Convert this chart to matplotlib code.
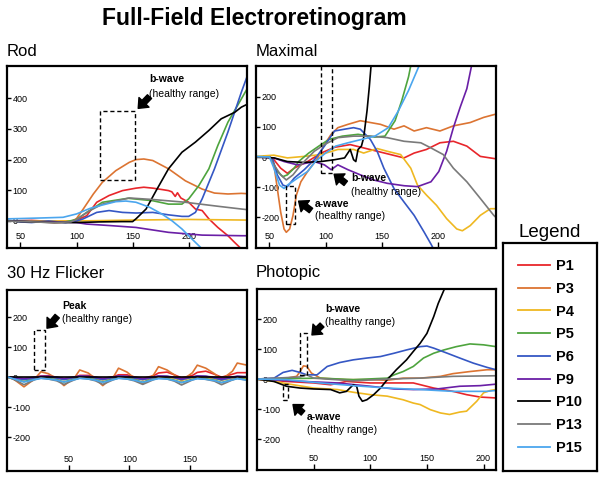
import matplotlib
matplotlib.use("Agg")
import matplotlib.pyplot as plt
from matplotlib.patches import Rectangle
from matplotlib.lines import Line2D

plt.rcParams['font.family'] = ['Liberation Sans', 'DejaVu Sans']
plt.rcParams['axes.unicode_minus'] = False

patients = ['P1', 'P3', 'P4', 'P5', 'P6', 'P9', 'P10', 'P13', 'P15']
colors = ['#e8262b', '#dc7432', '#efb821', '#4ea43e', '#3557c4',
          '#6a1fa6', '#000000', '#7a7a7a', '#4ba6ee']

# ---- Rod (x in ms, y in uV) ----
rod = {
    'P1': ([38, 60, 80, 95, 100, 109, 118, 129, 141, 153, 160, 168, 177, 182, 185, 188, 190, 193, 200, 206, 212, 218, 226, 235, 241, 247, 252],
           [0, 2, -2, 0, 3, 17, 61, 83, 99, 107, 110, 107, 102, 99, 95, 80, 92, 75, 61, 39, 34, 7, -21, -48, -70, -91, -110]),
    'P3': ([38, 60, 80, 95, 100, 106, 115, 123, 135, 147, 153, 160, 168, 182, 197, 212, 223, 235, 247, 252],
           [0, -2, -5, -3, 8, 39, 88, 126, 164, 191, 200, 202, 197, 170, 131, 104, 91, 88, 90, 89]),
    'P4': ([38, 100, 150, 200, 252],
           [0, 0, 3, 5, 3]),
    'P5': ([38, 60, 90, 100, 110, 123, 146, 168, 182, 194, 200, 209, 218, 226, 235, 247, 252],
           [0, -2, -3, 5, 30, 61, 74, 66, 55, 55, 72, 115, 170, 246, 322, 398, 430]),
    'P6': ([38, 50, 60, 75, 90, 100, 106, 118, 129, 141, 153, 168, 182, 194, 200, 206, 212, 223, 235, 247, 252],
           [3, -3, -5, 0, -5, 0, 7, 28, 34, 28, 26, 28, 20, 15, 15, 28, 72, 170, 290, 420, 470]),
    'P9': ([38, 80, 100, 109, 130, 153, 182, 212, 247, 252],
           [0, -3, -5, -10, -15, -21, -37, -46, -48, -48]),
    'P10': ([38, 60, 80, 100, 120, 140, 150, 153, 162, 171, 182, 194, 206, 218, 229, 241, 247, 252],
            [0, -3, -5, -5, -3, -2, -2, 7, 39, 99, 170, 224, 257, 295, 333, 354, 371, 380]),
    'P13': ([38, 60, 80, 95, 100, 110, 123, 147, 168, 197, 226, 247, 252],
            [0, -3, -5, -3, 5, 30, 55, 75, 70, 61, 48, 39, 37]),
    'P15': ([38, 50, 70, 88, 100, 112, 123, 135, 144, 153, 165, 176, 185, 194, 203, 212],
            [7, 8, 10, 12, 23, 41, 52, 63, 65, 61, 45, 23, 1, -26, -59, -91]),
}

# ---- Maximal ----
maximal = {
    'P1': ([38, 50, 54, 60, 66, 72, 84, 96, 108, 122, 134, 146, 158, 170, 179, 190, 202, 214, 226, 238, 252],
           [0, 0, -9, -37, -54, -37, -15, 13, 32, 41, 30, 19, 8, -3, 13, 25, 47, 52, 36, 2, -6]),
    'P3': ([38, 50, 54, 57, 60, 63, 65, 68, 71, 74, 78, 84, 93, 99, 105, 111, 120, 131, 140, 149, 161, 170, 179, 190, 202, 214, 229, 241, 252],
           [0, 0, -26, -104, -182, -238, -249, -238, -193, -126, -82, -48, -3, 41, 75, 97, 108, 120, 114, 108, 92, 103, 86, 97, 86, 103, 114, 131, 142]),
    'P4': ([38, 54, 66, 81, 96, 111, 125, 134, 146, 155, 167, 176, 182, 190, 199, 208, 217, 222, 229, 238, 247, 252],
           [2, 6, -3, 2, 8, 25, 25, 13, 28, 19, 8, -37, -93, -126, -160, -204, -238, -244, -227, -193, -171, -171]),
    'P5': ([38, 50, 53, 57, 62, 66, 72, 76, 85, 94, 103, 115, 129, 144, 153, 156, 162, 168, 174, 177, 180],
           [0, 0, -15, -48, -65, -59, -37, -15, 13, 36, 58, 69, 75, 66, 69, 86, 120, 187, 265, 320, 360]),
    'P6': ([38, 50, 53, 57, 62, 66, 72, 81, 90, 99, 108, 117, 125, 131, 140, 146, 152, 161, 170, 179, 188, 194, 200],
           [0, 0, -9, -59, -93, -98, -70, -42, -9, 36, 86, 92, 97, 92, 58, 19, -37, -104, -149, -193, -249, -288, -330]),
    'P9': ([38, 54, 63, 75, 90, 99, 105, 111, 120, 131, 143, 155, 170, 182, 194, 201, 208, 214, 220, 226, 230, 235],
           [0, -3, -15, -26, -15, -26, -42, -26, -42, -59, -76, -87, -95, -98, -82, -48, 19, 97, 164, 226, 298, 350]),
    'P10': ([38, 54, 66, 81, 96, 108, 117, 122, 125, 127, 129, 132, 134, 137, 139, 141, 143],
            [0, -3, -15, -18, -15, -9, -3, 25, -9, -15, 25, 36, 64, 153, 231, 320, 380]),
    'P13': ([38, 50, 54, 60, 65, 71, 78, 90, 99, 111, 125, 140, 155, 170, 185, 194, 205, 214, 226, 238, 250, 252],
            [0, 0, -26, -59, -76, -59, -26, 19, 41, 64, 69, 69, 64, 52, 47, 30, 8, -37, -82, -137, -193, -200]),
    'P15': ([38, 50, 54, 59, 63, 66, 75, 84, 91, 100, 109, 120, 132, 144, 156, 165, 174, 183, 190],
            [2, 0, -37, -93, -104, -93, -70, -48, -15, 13, 36, 47, 58, 69, 97, 153, 220, 298, 360]),
}

# ---- 30 Hz Flicker ----
flicker_x = [0, 5, 13, 22, 27, 33, 40, 46, 55, 59, 66, 72, 78, 87, 91, 98, 104, 111, 120, 124,
             131, 137, 143, 152, 156, 163, 170, 176, 185, 189, 197]
flicker = {
    'P1': [0, -2, -6, 0, 4, 5, 0, -6, 0, 6, 6, 0, -5, 2, 8, 8, 1, -4, 5, 14,
           17, 8, -2, 6, 16, 20, 10, 0, 10, 15, 15],
    'P3': [0, -8, -32, -5, 18, 12, -5, -28, 0, 24, 14, -5, -28, 2, 30, 17, -3, -22, 8, 35,
           24, 8, -12, 15, 40, 30, 12, -8, 20, 47, 40],
    'P4': [0, -3, -8, -2, 0, 0, -3, -8, -2, 1, 0, -4, -9, -2, 1, 0, -4, -9, -2, 1,
           0, -4, -10, -2, 0, -1, -5, -10, -3, 0, -5],
    'P5': [0, -5, -15, -5, -2, -4, -9, -16, -6, -2, -4, -9, -16, -6, -2, -4, -9, -17, -6, -2,
           -4, -10, -18, -7, -3, -5, -10, -18, -8, -3, -8],
    'P6': [0, -2, -8, -2, 2, 2, -3, -8, -1, 3, 2, -3, -8, -1, 3, 2, -3, -8, -1, 4,
           3, -2, -8, 0, 4, 3, -3, -9, -1, 3, 0],
    'P9': [0, -1, -4, 0, 3, 3, 0, -4, 1, 4, 3, 0, -4, 1, 4, 3, 0, -5, 1, 4,
           3, 0, -5, 1, 4, 3, 0, -5, 1, 3, 2],
    'P10': [1, 1, 1, 1, 1, 1, 1, 1, 1, 1, 1, 1, 1, 1, 1, 1, 1, 1, 1, 1,
            1, 1, 1, 1, 1, 1, 1, 1, 1, 1, 1],
    'P13': [0, -8, -25, -8, -3, -6, -12, -24, -8, -3, -6, -12, -24, -8, -3, -6, -12, -24, -8, -3,
            -6, -13, -26, -9, -4, -7, -13, -25, -9, -4, -10],
    'P15': [0, -6, -16, -8, -4, -6, -10, -16, -8, -4, -6, -10, -17, -8, -4, -6, -10, -17, -8, -5,
            -6, -11, -18, -9, -5, -7, -11, -18, -9, -5, -10],
}

# ---- Photopic ----
photopic = {
    'P1': ([0, 26, 50, 65, 79, 100, 120, 138, 156, 173, 185, 197, 211],
           [0, -8, -13, -19, -8, -13, -13, -13, -30, -41, -52, -60, -63]),
    'P3': ([0, 26, 35, 38, 41, 44, 48, 56, 79, 100, 115, 129, 144, 162, 173, 188, 203, 211],
           [0, 3, 9, 25, 44, 42, 20, 3, -2, -2, -4, 3, 3, 9, 18, 25, 31, 31]),
    'P4': ([0, 15, 32, 50, 71, 85, 100, 115, 129, 138, 144, 153, 162, 170, 179, 185, 194, 200, 206, 211],
           [0, -8, -19, -30, -35, -44, -52, -57, -69, -80, -85, -102, -113, -118, -110, -107, -74, -46, -38, -35]),
    'P5': ([0, 56, 85, 115, 121, 129, 138, 147, 156, 165, 176, 188, 200, 211],
           [0, 3, -2, 3, 14, 25, 42, 70, 86, 97, 108, 117, 114, 108]),
    'P6': ([0, 15, 23, 31, 38, 44, 53, 62, 73, 85, 97, 109, 121, 132, 144, 150, 156, 168, 179, 191, 203, 211],
           [0, 3, 22, 29, 22, 14, 14, 42, 55, 64, 70, 75, 86, 97, 108, 110, 103, 86, 70, 53, 39, 31]),
    'P9': ([0, 41, 71, 100, 121, 138, 159, 179, 197, 211],
           [0, -8, -13, -24, -33, -35, -33, -24, -22, -17]),
    'P10': ([0, 15, 26, 38, 50, 65, 73, 79, 85, 88, 90, 93, 97, 103, 109, 115, 123, 132, 138, 144, 150, 156, 160, 165, 170],
            [0, -8, -24, -30, -33, -35, -46, -41, -19, -24, -57, -74, -69, -52, -30, -2, 31, 64, 92, 119, 152, 208, 252, 296, 340]),
    'P13': ([0, 38, 44, 50, 85, 115, 144, 173, 211],
            [0, 7, 14, 3, -6, 0, 3, 9, 11]),
    'P15': ([0, 26, 56, 85, 115, 144, 173, 203, 211],
            [0, -2, -13, -22, -30, -35, -41, -41, -38]),
}

fig = plt.figure(figsize=(6.04, 4.8), dpi=100)

ax_rod = fig.add_axes([7/604, 1-248/480, 240/604, 182/480])
ax_max = fig.add_axes([256/604, 1-248/480, 240/604, 182/480])
ax_fl = fig.add_axes([7/604, 1-471/480, 240/604, 181/480])
ax_ph = fig.add_axes([257/604, 1-470/480, 239/604, 181/480])
ax_leg = fig.add_axes([503/604, 1-471/480, 94/604, 228/480])

lw = 1.2
for p, c in zip(patients, colors):
    ax_rod.plot(rod[p][0], rod[p][1], color=c, lw=lw)
    ax_max.plot(maximal[p][0], maximal[p][1], color=c, lw=lw)
    ax_fl.plot(flicker_x, flicker[p], color=c, lw=lw)
    ax_ph.plot(photopic[p][0], photopic[p][1], color=c, lw=lw)


def style_axes(ax, xlim, ylim, xticks, yticks):
    ax.set_xlim(*xlim)
    ax.set_ylim(*ylim)
    ax.set_xticks(xticks)
    ax.set_yticks(yticks)
    for s in ax.spines.values():
        s.set_linewidth(1.6)
    ax.tick_params(axis='y', direction='in', length=3, width=1, pad=-4, labelsize=6.5)
    ax.tick_params(axis='x', direction='in', length=4, width=1, pad=-5, labelsize=6.5)
    for lbl in ax.get_yticklabels():
        lbl.set_horizontalalignment('left')
    for lbl in ax.get_xticklabels():
        lbl.set_verticalalignment('bottom')


style_axes(ax_rod, (38, 252), (-88, 505), [50, 100, 150, 200], [0, 100, 200, 300, 400])
style_axes(ax_max, (38, 252), (-301, 301), [50, 100, 150, 200], [-200, -100, 0, 100, 200])
style_axes(ax_fl, (-1, 197), (-312, 290), [50, 100, 150], [-200, -100, 0, 100, 200])
style_axes(ax_ph, (0, 211), (-303, 300), [50, 100, 150, 200], [-200, -100, 0, 100, 200])


def box(ax, x, y, w, h):
    ax.add_patch(Rectangle((x, y), w, h, fill=False, ls=(0, (3, 2)), lw=1, ec='black', zorder=5))


def arrow(ax, tail, head):
    ax.annotate('', xy=head, xytext=tail,
                arrowprops=dict(facecolor='black', edgecolor='black', width=4,
                                headwidth=10, headlength=6, shrink=0), zorder=6)


def label(ax, x, y1, y2, bold):
    ax.text(x, y1, bold, fontsize=7.5, fontweight='bold', va='center', ha='left')
    ax.text(x, y2, '(healthy range)', fontsize=7.5, va='center', ha='left')


# Rod annotations
box(ax_rod, 121, 132, 31, 228)
arrow(ax_rod, (165, 405), (155, 367))
label(ax_rod, 165, 463, 414, 'b-wave')

# Maximal annotations
box(ax_max, 64.8, -223, 8.3, 128)
box(ax_max, 96, -54, 10, 370)
arrow(ax_max, (87, -177), (76, -146))
label(ax_max, 90.5, -154, -196, 'a-wave')
arrow(ax_max, (118, -87), (107.7, -57))
label(ax_max, 123, -70, -117, 'b-wave')

# Flicker annotations
box(ax_fl, 21.6, 23, 8.6, 135)
arrow(ax_fl, (40.4, 203), (32, 163))
label(ax_fl, 44.5, 237, 192, 'Peak')

# Photopic annotations
box(ax_ph, 38.2, 14, 5.8, 138)
box(ax_ph, 23, -69, 4, 54)
arrow(ax_ph, (57.4, 180), (48.5, 147))
label(ax_ph, 60, 235, 191, 'b-wave')
arrow(ax_ph, (40.6, -113), (31.8, -85))
label(ax_ph, 44, -126, -170, 'a-wave')

# Titles
fig.text(254/604, 1-18/480, 'Full-Field Electroretinogram', ha='center', va='center',
         fontsize=16.5, fontweight='bold')
fig.text(7/604, 1-52/480, 'Rod', ha='left', va='center', fontsize=12)
fig.text(256/604, 1-52/480, 'Maximal', ha='left', va='center', fontsize=12)
fig.text(7/604, 1-273/480, '30 Hz Flicker', ha='left', va='center', fontsize=12)
fig.text(256/604, 1-273/480, 'Photopic', ha='left', va='center', fontsize=12)

# Legend
ax_leg.set_xticks([])
ax_leg.set_yticks([])
for s in ax_leg.spines.values():
    s.set_linewidth(1.6)
handles = [Line2D([0], [0], color=c, lw=1.3) for c in colors]
ax_leg.legend(handles, patients, loc='center', frameon=False,
              prop={'weight': 'bold', 'size': 10.5}, handlelength=2.2,
              handletextpad=0.45, labelspacing=0.6)
fig.text(550/604, 1-232/480, 'Legend', ha='center', va='center', fontsize=13.5)

fig.savefig('out.png', dpi=100)
